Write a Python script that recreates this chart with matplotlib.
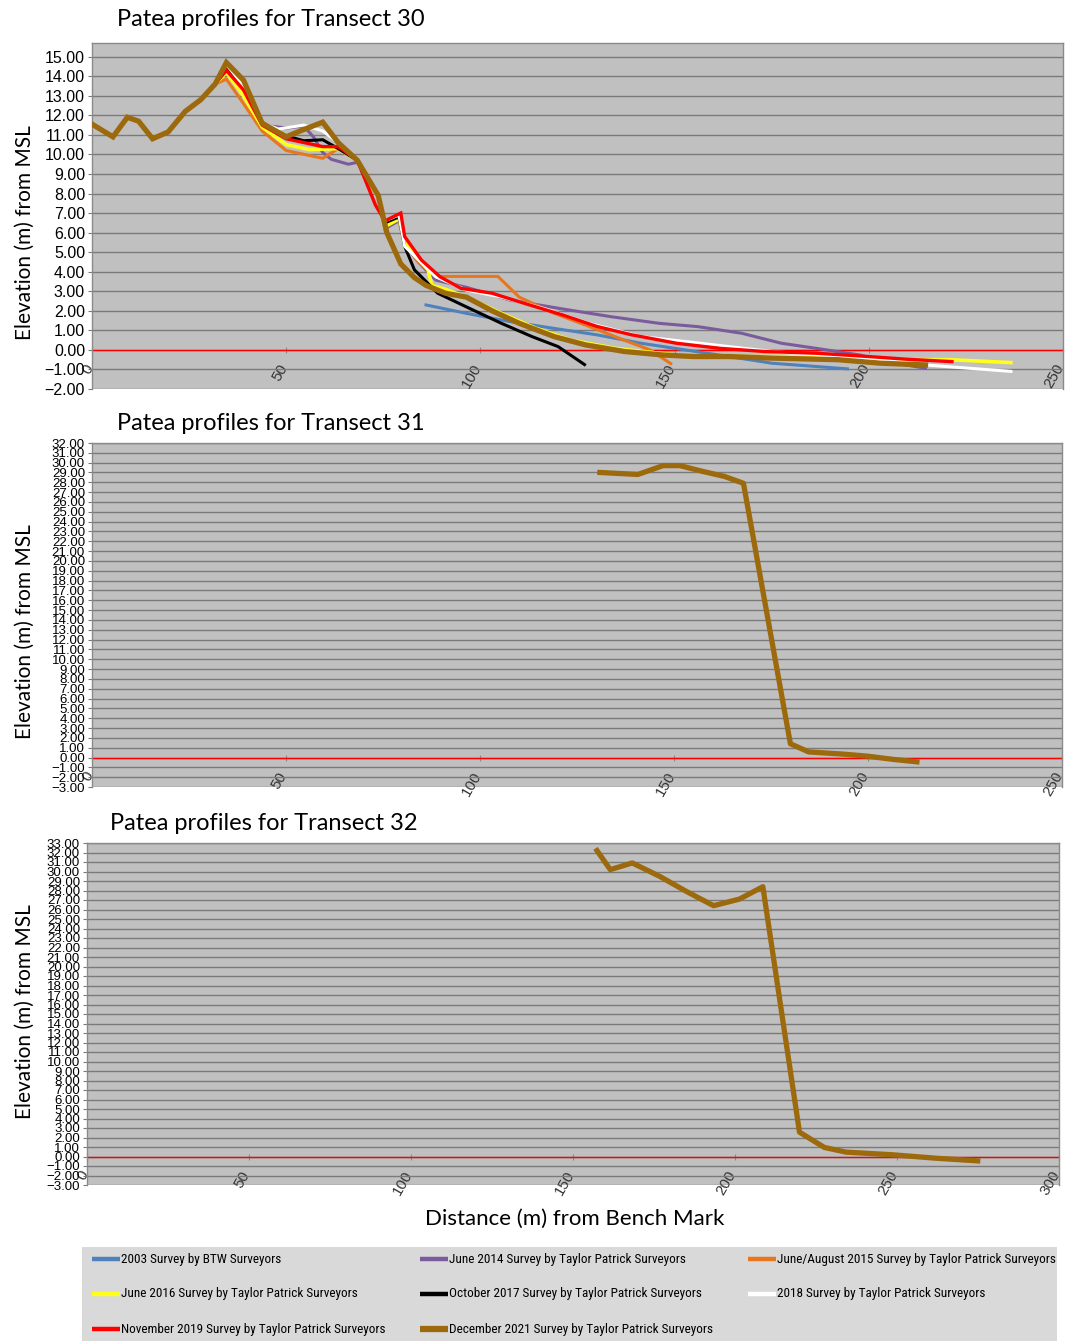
import matplotlib
matplotlib.use('Agg')
import matplotlib.pyplot as plt
from matplotlib import font_manager as fm
from matplotlib.transforms import ScaledTranslation
import numpy as np

# ---- data ----
names = ['2003 Survey by BTW Surveyors',
         'June 2014 Survey by Taylor Patrick Surveyors',
         'June/August 2015 Survey by Taylor Patrick Surveyors',
         'June 2016 Survey by Taylor Patrick Surveyors',
         'October 2017 Survey by Taylor Patrick Surveyors',
         '2018 Survey by Taylor Patrick Surveyors',
         'November 2019 Survey by Taylor Patrick Surveyors',
         'December 2021 Survey by Taylor Patrick Surveyors']
colors = ['#4f81bd', '#7a5c9c', '#e8761c', '#ffff1a', '#000000', '#ffffff', '#ff0000', '#9c6a0c']
widths = [2.2, 2.2, 2.2, 2.6, 2.2, 2.2, 2.4, 3.8]

# landward section of transect 30, common to the later surveys
x_land = [0, 5.4, 9.1, 12, 15.6, 19.6, 24, 28, 31.7]
y_land = [11.55, 10.9, 11.9, 11.7, 10.8, 11.15, 12.2, 12.8, 13.6]

x30_2003 = [86, 96.4, 107.6, 119, 130, 141.4, 152.7, 164, 175, 186.5, 194.5]
y30_2003 = [2.3, 1.87, 1.45, 1.1, 0.77, 0.34, 0.0, -0.34, -0.68, -0.85, -0.97]

x30_2014 = x_land + [34.6, 39, 43.8, 50, 54.5, 57, 59.4, 61.6, 66, 68.5, 73.7, 75.4, 79, 80.5,
                     84, 88.5, 96.4, 107.6, 121, 133.6, 146, 156, 167.3, 177.5, 186.5, 197.7, 204.5, 214.6]
y30_2014 = y_land + [14.4, 13.4, 11.5, 11.35, 11.45, 10.9, 10.1, 9.75, 9.5, 9.6, 7.8, 6.2, 6.6, 5.4,
                     4.5, 3.57, 3.2, 2.55, 2.1, 1.7, 1.36, 1.19, 0.85, 0.34, 0.08, -0.26, -0.6, -0.94]

x30_2015 = x_land + [34.6, 39, 43.8, 50, 59.4, 63.4, 68.3, 73.7, 75.4, 79, 80.5, 84, 88.5,
                     104.5, 110, 119, 128, 137, 143.7, 149]
y30_2015 = y_land + [13.85, 12.6, 11.2, 10.2, 9.8, 10.3, 9.7, 7.8, 6.4, 6.8, 5.5, 4.5, 3.76,
                     3.76, 2.7, 1.87, 1.2, 0.5, 0.0, -0.7]

x30_2016 = x_land + [34.6, 39, 43.8, 50, 56, 63.4, 68.3, 73.7, 75.4, 79, 80.5, 86.5, 87.5, 91,
                     96.4, 105.4, 114.4, 123.4, 134.7, 146, 155, 186, 209, 221, 236.6]
y30_2016 = y_land + [14.2, 13.0, 11.4, 10.5, 10.25, 10.3, 9.7, 7.8, 6.3, 6.7, 5.5, 4.1, 3.3, 3.1,
                     2.7, 1.87, 1.1, 0.5, 0.08, -0.17, -0.34, -0.34, -0.5, -0.5, -0.65]

x30_2017 = x_land + [34.6, 38.4, 43.8, 50, 54.5, 59.4, 63.8, 68.3, 73.7, 75.4, 79, 80.5, 83, 89,
                     96.4, 105.4, 113.3, 120, 126.8]
y30_2017 = y_land + [14.5, 13.7, 11.6, 10.95, 10.7, 10.75, 10.25, 9.7, 7.9, 6.5, 6.8, 5.3, 4.1, 2.9,
                     2.2, 1.36, 0.68, 0.17, -0.75]

x30_2018 = x_land + [34.6, 39, 43.8, 48, 54.5, 59.4, 63.4, 68.3, 73.7, 75.4, 79, 80.5, 88.5, 96.4,
                     105.4, 116.7, 127.9, 141.4, 152.7, 164, 175, 186.5, 203, 214.6, 236.6]
y30_2018 = y_land + [14.6, 13.5, 11.6, 11.3, 11.5, 11.2, 10.6, 9.7, 7.9, 6.6, 6.9, 5.3, 3.74, 3.06,
                     2.7, 2.1, 1.36, 0.68, 0.43, 0.17, -0.08, -0.26, -0.5, -0.77, -1.1]

x30_2019 = x_land + [34.6, 39, 43.8, 50, 59.4, 63.4, 68.3, 73, 75.4, 79.5, 80.5, 84.8, 89.6, 95,
                     103, 111, 121, 130, 139, 150.5, 161.7, 173, 186.5, 200, 210, 221.4]
y30_2019 = y_land + [14.3, 13.3, 11.5, 10.8, 10.4, 10.4, 9.7, 7.4, 6.6, 7.0, 5.8, 4.6, 3.74, 3.15,
                     2.9, 2.4, 1.8, 1.2, 0.77, 0.34, 0.08, -0.08, -0.17, -0.34, -0.48, -0.6]

x30_2021 = x_land + [34.6, 39, 43.8, 50, 53.6, 59.4, 63.4, 68.3, 73.7, 75.9, 79.5, 83, 86, 91,
                     96.4, 103, 110, 119, 127, 137, 147, 155, 164, 175, 192, 203, 214.6]
y30_2021 = y_land + [14.7, 13.8, 11.6, 10.9, 11.2, 11.65, 10.6, 9.7, 7.9, 6.0, 4.4, 3.7, 3.3, 2.9,
                     2.7, 2.0, 1.36, 0.68, 0.26, -0.08, -0.26, -0.34, -0.34, -0.42, -0.5, -0.68, -0.77]

x31_2021 = [130.9, 140.7, 147.2, 151.5, 157.5, 163, 167.9, 180, 184.7, 193.8, 199.8, 206.7, 212.6]
y31_2021 = [29.0, 28.8, 29.7, 29.7, 29.1, 28.6, 27.9, 1.4, 0.57, 0.34, 0.14, -0.2, -0.44]

x32_2021 = [157.4, 161.5, 168.3, 176.7, 185, 193.4, 201.4, 208.6, 219.9, 227.6, 234.3, 248.7, 262, 274.9]
y32_2021 = [32.2, 30.2, 30.9, 29.5, 27.9, 26.4, 27.1, 28.4, 2.56, 0.95, 0.46, 0.18, -0.18, -0.46]

t30 = [(x30_2003, y30_2003), (x30_2014, y30_2014), (x30_2015, y30_2015), (x30_2016, y30_2016),
       (x30_2017, y30_2017), (x30_2018, y30_2018), (x30_2019, y30_2019), (x30_2021, y30_2021)]

W, H = 1065, 1341
fig = plt.figure(figsize=(W / 100, H / 100), dpi=100)
fig.patch.set_facecolor('white')


def have_font(name):
    try:
        fm.findfont(fm.FontProperties(family=name), fallback_to_default=False)
        return True
    except ValueError:
        return False


NARROW = None
for cand in ['Liberation Sans Narrow', 'Roboto Condensed', 'Open Sans Condensed', 'Arial Narrow']:
    if have_font(cand):
        NARROW = cand
        break

TICKFONT = ['Liberation Sans', 'DejaVu Sans']
HEADFONT = ['Lato', 'DejaVu Sans']
if NARROW:
    LEGFONT, LEGSIZE = [NARROW, 'DejaVu Sans'], 9.5
else:
    LEGFONT, LEGSIZE = TICKFONT, 7.6


def px_axes(left, top, right, bottom):
    return fig.add_axes([left / W, 1 - bottom / H, (right - left) / W, (bottom - top) / H])


shift = ScaledTranslation(-6 / 72, -2 / 72, fig.dpi_scale_trans)


def setup(ax, ymin, ymax, ytop, xmax, tsize):
    ax.set_facecolor('#c0c0c0')
    ax.set_xlim(0, xmax)
    ax.set_ylim(ymin, ymax)
    ax.set_yticks(np.arange(ymin, ytop + 1))
    ax.yaxis.set_major_formatter('{x:.2f}')
    ax.set_xticks(np.arange(0, xmax + 1, 50))
    ax.grid(axis='y', color='#7a7a7a', lw=1.0, zorder=0)
    ax.set_axisbelow(True)
    ax.axhline(0, color='#ff0000', lw=1.0, zorder=1)
    ax.spines['bottom'].set_position(('data', 0))
    ax.spines['bottom'].set_visible(False)
    for s in ['top', 'right', 'left']:
        ax.spines[s].set_color('#8a8a8a')
        ax.spines[s].set_linewidth(1.0)
    ax.tick_params(axis='y', length=3, color='#7a7a7a', pad=2, labelsize=tsize)
    ax.tick_params(axis='x', direction='inout', length=5, color='#8a8a8a', pad=4, labelsize=11)
    for lab in ax.get_yticklabels():
        lab.set_family(TICKFONT)
    for lab in ax.get_xticklabels():
        lab.set_family(TICKFONT)
        lab.set_rotation(60)
        lab.set_ha('right')
        lab.set_va('top')
        lab.set_rotation_mode('anchor')
        lab.set_color('#333333')
        lab.set_transform(lab.get_transform() + shift)


# ---- Transect 30 ----
ax1 = px_axes(92, 43, 1063, 389)
setup(ax1, -2, 15.7, 15, 250, 11.5)
for (xs, ys), c, lw in zip(t30, colors, widths):
    ax1.plot(xs, ys, color=c, lw=lw, solid_joinstyle='miter', zorder=3)

# ---- Transect 31 ----
ax2 = px_axes(92, 443, 1062, 787)
setup(ax2, -3, 32, 32, 250, 9.5)
ax2.plot(x31_2021, y31_2021, color=colors[7], lw=widths[7], zorder=3)

# ---- Transect 32 ----
ax3 = px_axes(87, 843, 1059, 1185)
setup(ax3, -3, 33, 33, 300, 9.5)
ax3.plot(x32_2021, y32_2021, color=colors[7], lw=widths[7], zorder=3)

# titles and axis labels
fig.text(117 / W, 1 - 19 / H, 'Patea profiles for Transect 30', fontsize=17, family=HEADFONT, va='center')
fig.text(117 / W, 1 - 423 / H, 'Patea profiles for Transect 31', fontsize=17, family=HEADFONT, va='center')
fig.text(110 / W, 1 - 824 / H, 'Patea profiles for Transect 32', fontsize=17, family=HEADFONT, va='center')
for yc in [233, 632, 1012]:
    fig.text(25 / W, 1 - yc / H, 'Elevation (m) from MSL', fontsize=15, family=HEADFONT,
             rotation=90, ha='center', va='center')
fig.text(575 / W, 1 - 1219 / H, 'Distance (m) from Bench Mark', fontsize=16, family=HEADFONT,
         ha='center', va='center')

# ---- legend box ----
lg = px_axes(82, 1247, 1057, 1341)
lg.set_facecolor('#d9d9d9')
lg.set_xlim(82, 1057)
lg.set_ylim(1341, 1247)
lg.set_xticks([])
lg.set_yticks([])
for s in lg.spines.values():
    s.set_visible(False)
col_x = [92, 420, 748]
row_y = [1259, 1294, 1329]
for i, (name, c, lw) in enumerate(zip(names, colors, widths)):
    r, k = divmod(i, 3)
    x0 = col_x[k]
    lg.plot([x0, x0 + 28], [row_y[r], row_y[r]], color=c, lw=3.2 if i != 7 else 4.5,
            solid_capstyle='butt')
    lg.text(x0 + 29, row_y[r], name, fontsize=LEGSIZE, family=LEGFONT, va='center', ha='left')

fig.savefig('out.png', dpi=100)
